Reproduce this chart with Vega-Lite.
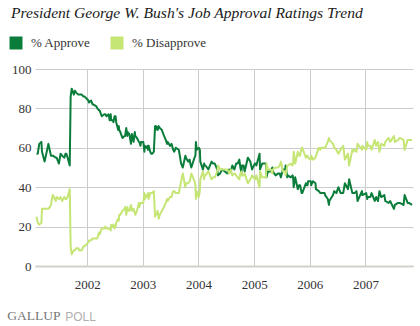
{
  "$schema": "https://vega.github.io/schema/vega-lite/v6.json",
  "autosize": "none",
  "width": 378,
  "height": 197,
  "padding": {"left": 35, "top": 69, "right": 7, "bottom": 60},
  "background": "white",
  "title": {
    "text": "President George W. Bush's Job Approval Ratings Trend",
    "anchor": "start",
    "frame": "group",
    "dx": -24,
    "offset": 8,
    "font": "Liberation Serif",
    "fontStyle": "italic",
    "fontWeight": "normal",
    "fontSize": 15.6,
    "color": "#1a1a1a"
  },
  "data": {
    "values": [
      {"d": "2001-02-02", "approve": 57, "disapprove": 25},
      {"d": "2001-02-10", "approve": 57, "disapprove": 22},
      {"d": "2001-02-20", "approve": 62, "disapprove": 21},
      {"d": "2001-03-06", "approve": 63, "disapprove": 22},
      {"d": "2001-03-10", "approve": 58, "disapprove": 29},
      {"d": "2001-03-27", "approve": 53, "disapprove": 29},
      {"d": "2001-04-21", "approve": 62, "disapprove": 29},
      {"d": "2001-05-08", "approve": 56, "disapprove": 31},
      {"d": "2001-05-12", "approve": 56, "disapprove": 33},
      {"d": "2001-05-19", "approve": 56, "disapprove": 36},
      {"d": "2001-06-09", "approve": 55, "disapprove": 33},
      {"d": "2001-06-14", "approve": 55, "disapprove": 35},
      {"d": "2001-06-29", "approve": 52, "disapprove": 34},
      {"d": "2001-07-10", "approve": 57, "disapprove": 35},
      {"d": "2001-07-20", "approve": 56, "disapprove": 33},
      {"d": "2001-08-04", "approve": 55, "disapprove": 35},
      {"d": "2001-08-11", "approve": 57, "disapprove": 34},
      {"d": "2001-08-17", "approve": 57, "disapprove": 34},
      {"d": "2001-08-25", "approve": 55, "disapprove": 35},
      {"d": "2001-09-08", "approve": 51, "disapprove": 39},
      {"d": "2001-09-14", "approve": 86, "disapprove": 10},
      {"d": "2001-09-21", "approve": 90, "disapprove": 6},
      {"d": "2001-10-05", "approve": 87, "disapprove": 8},
      {"d": "2001-10-12", "approve": 89, "disapprove": 8},
      {"d": "2001-10-20", "approve": 88, "disapprove": 9},
      {"d": "2001-11-03", "approve": 87, "disapprove": 9},
      {"d": "2001-11-09", "approve": 87, "disapprove": 8},
      {"d": "2001-11-26", "approve": 87, "disapprove": 8},
      {"d": "2001-12-07", "approve": 86, "disapprove": 10},
      {"d": "2001-12-15", "approve": 86, "disapprove": 10},
      {"d": "2002-01-08", "approve": 84, "disapprove": 12},
      {"d": "2002-01-12", "approve": 83, "disapprove": 13},
      {"d": "2002-01-26", "approve": 84, "disapprove": 13},
      {"d": "2002-02-05", "approve": 82, "disapprove": 14},
      {"d": "2002-02-09", "approve": 82, "disapprove": 14},
      {"d": "2002-03-02", "approve": 81, "disapprove": 14},
      {"d": "2002-03-08", "approve": 80, "disapprove": 14},
      {"d": "2002-03-19", "approve": 79, "disapprove": 17},
      {"d": "2002-03-23", "approve": 79, "disapprove": 16},
      {"d": "2002-04-06", "approve": 76, "disapprove": 19},
      {"d": "2002-04-23", "approve": 77, "disapprove": 19},
      {"d": "2002-04-30", "approve": 77, "disapprove": 20},
      {"d": "2002-05-07", "approve": 76, "disapprove": 19},
      {"d": "2002-05-21", "approve": 77, "disapprove": 19},
      {"d": "2002-05-28", "approve": 74, "disapprove": 19},
      {"d": "2002-06-04", "approve": 77, "disapprove": 18},
      {"d": "2002-06-07", "approve": 74, "disapprove": 21},
      {"d": "2002-06-18", "approve": 74, "disapprove": 20},
      {"d": "2002-06-22", "approve": 73, "disapprove": 21},
      {"d": "2002-06-29", "approve": 76, "disapprove": 19},
      {"d": "2002-07-06", "approve": 76, "disapprove": 20},
      {"d": "2002-07-10", "approve": 73, "disapprove": 22},
      {"d": "2002-07-23", "approve": 69, "disapprove": 24},
      {"d": "2002-07-27", "approve": 71, "disapprove": 23},
      {"d": "2002-07-30", "approve": 69, "disapprove": 26},
      {"d": "2002-08-06", "approve": 68, "disapprove": 26},
      {"d": "2002-08-20", "approve": 65, "disapprove": 28},
      {"d": "2002-09-03", "approve": 66, "disapprove": 29},
      {"d": "2002-09-06", "approve": 66, "disapprove": 30},
      {"d": "2002-09-14", "approve": 70, "disapprove": 26},
      {"d": "2002-09-21", "approve": 66, "disapprove": 30},
      {"d": "2002-09-24", "approve": 68, "disapprove": 28},
      {"d": "2002-10-04", "approve": 67, "disapprove": 28},
      {"d": "2002-10-15", "approve": 62, "disapprove": 31},
      {"d": "2002-10-21", "approve": 67, "disapprove": 28},
      {"d": "2002-11-01", "approve": 63, "disapprove": 29},
      {"d": "2002-11-09", "approve": 68, "disapprove": 27},
      {"d": "2002-11-12", "approve": 66, "disapprove": 26},
      {"d": "2002-11-23", "approve": 65, "disapprove": 28},
      {"d": "2002-12-06", "approve": 63, "disapprove": 32},
      {"d": "2002-12-09", "approve": 63, "disapprove": 30},
      {"d": "2002-12-16", "approve": 61, "disapprove": 32},
      {"d": "2002-12-20", "approve": 63, "disapprove": 32},
      {"d": "2003-01-04", "approve": 63, "disapprove": 32},
      {"d": "2003-01-11", "approve": 58, "disapprove": 37},
      {"d": "2003-01-14", "approve": 61, "disapprove": 34},
      {"d": "2003-01-24", "approve": 60, "disapprove": 36},
      {"d": "2003-02-01", "approve": 61, "disapprove": 35},
      {"d": "2003-02-04", "approve": 59, "disapprove": 37},
      {"d": "2003-02-08", "approve": 61, "disapprove": 34},
      {"d": "2003-02-18", "approve": 58, "disapprove": 37},
      {"d": "2003-02-25", "approve": 57, "disapprove": 37},
      {"d": "2003-03-04", "approve": 57, "disapprove": 37},
      {"d": "2003-03-14", "approve": 58, "disapprove": 38},
      {"d": "2003-03-22", "approve": 71, "disapprove": 25},
      {"d": "2003-03-24", "approve": 69, "disapprove": 27},
      {"d": "2003-03-29", "approve": 71, "disapprove": 26},
      {"d": "2003-04-05", "approve": 70, "disapprove": 27},
      {"d": "2003-04-08", "approve": 69, "disapprove": 28},
      {"d": "2003-04-15", "approve": 71, "disapprove": 24},
      {"d": "2003-04-22", "approve": 70, "disapprove": 26},
      {"d": "2003-05-06", "approve": 69, "disapprove": 28},
      {"d": "2003-05-20", "approve": 66, "disapprove": 30},
      {"d": "2003-05-31", "approve": 64, "disapprove": 32},
      {"d": "2003-06-09", "approve": 62, "disapprove": 34},
      {"d": "2003-06-13", "approve": 63, "disapprove": 33},
      {"d": "2003-06-28", "approve": 61, "disapprove": 35},
      {"d": "2003-07-08", "approve": 62, "disapprove": 35},
      {"d": "2003-07-19", "approve": 59, "disapprove": 38},
      {"d": "2003-07-26", "approve": 58, "disapprove": 38},
      {"d": "2003-08-05", "approve": 60, "disapprove": 37},
      {"d": "2003-08-25", "approve": 59, "disapprove": 37},
      {"d": "2003-09-09", "approve": 52, "disapprove": 43},
      {"d": "2003-09-20", "approve": 50, "disapprove": 47},
      {"d": "2003-10-07", "approve": 56, "disapprove": 40},
      {"d": "2003-10-11", "approve": 55, "disapprove": 42},
      {"d": "2003-10-25", "approve": 53, "disapprove": 42},
      {"d": "2003-11-04", "approve": 54, "disapprove": 43},
      {"d": "2003-11-11", "approve": 51, "disapprove": 45},
      {"d": "2003-11-15", "approve": 50, "disapprove": 47},
      {"d": "2003-12-06", "approve": 55, "disapprove": 43},
      {"d": "2003-12-12", "approve": 56, "disapprove": 41},
      {"d": "2003-12-15", "approve": 63, "disapprove": 34},
      {"d": "2003-12-20", "approve": 59, "disapprove": 38},
      {"d": "2004-01-03", "approve": 60, "disapprove": 35},
      {"d": "2004-01-10", "approve": 59, "disapprove": 38},
      {"d": "2004-01-13", "approve": 53, "disapprove": 44},
      {"d": "2004-01-30", "approve": 49, "disapprove": 48},
      {"d": "2004-02-07", "approve": 52, "disapprove": 44},
      {"d": "2004-02-10", "approve": 51, "disapprove": 46},
      {"d": "2004-02-16", "approve": 51, "disapprove": 46},
      {"d": "2004-03-06", "approve": 49, "disapprove": 48},
      {"d": "2004-03-27", "approve": 53, "disapprove": 44},
      {"d": "2004-04-06", "approve": 52, "disapprove": 45},
      {"d": "2004-04-17", "approve": 52, "disapprove": 45},
      {"d": "2004-05-03", "approve": 49, "disapprove": 48},
      {"d": "2004-05-08", "approve": 46, "disapprove": 51},
      {"d": "2004-05-22", "approve": 47, "disapprove": 49},
      {"d": "2004-06-04", "approve": 49, "disapprove": 49},
      {"d": "2004-06-22", "approve": 48, "disapprove": 49},
      {"d": "2004-07-09", "approve": 47, "disapprove": 49},
      {"d": "2004-07-20", "approve": 49, "disapprove": 47},
      {"d": "2004-07-31", "approve": 48, "disapprove": 49},
      {"d": "2004-08-10", "approve": 51, "disapprove": 46},
      {"d": "2004-08-24", "approve": 49, "disapprove": 47},
      {"d": "2004-09-04", "approve": 52, "disapprove": 46},
      {"d": "2004-09-14", "approve": 52, "disapprove": 45},
      {"d": "2004-09-25", "approve": 54, "disapprove": 44},
      {"d": "2004-10-02", "approve": 50, "disapprove": 47},
      {"d": "2004-10-09", "approve": 47, "disapprove": 48},
      {"d": "2004-10-12", "approve": 51, "disapprove": 46},
      {"d": "2004-10-23", "approve": 51, "disapprove": 46},
      {"d": "2004-10-30", "approve": 48, "disapprove": 47},
      {"d": "2004-11-20", "approve": 55, "disapprove": 42},
      {"d": "2004-12-06", "approve": 53, "disapprove": 44},
      {"d": "2004-12-18", "approve": 49, "disapprove": 46},
      {"d": "2005-01-04", "approve": 52, "disapprove": 44},
      {"d": "2005-01-08", "approve": 52, "disapprove": 44},
      {"d": "2005-01-15", "approve": 51, "disapprove": 46},
      {"d": "2005-02-05", "approve": 57, "disapprove": 40},
      {"d": "2005-02-08", "approve": 49, "disapprove": 48},
      {"d": "2005-02-22", "approve": 52, "disapprove": 45},
      {"d": "2005-02-26", "approve": 52, "disapprove": 45},
      {"d": "2005-03-08", "approve": 52, "disapprove": 45},
      {"d": "2005-03-19", "approve": 52, "disapprove": 45},
      {"d": "2005-03-22", "approve": 45, "disapprove": 52},
      {"d": "2005-04-01", "approve": 48, "disapprove": 49},
      {"d": "2005-04-19", "approve": 48, "disapprove": 49},
      {"d": "2005-04-30", "approve": 50, "disapprove": 47},
      {"d": "2005-05-03", "approve": 48, "disapprove": 49},
      {"d": "2005-05-21", "approve": 46, "disapprove": 50},
      {"d": "2005-06-07", "approve": 47, "disapprove": 50},
      {"d": "2005-06-17", "approve": 47, "disapprove": 51},
      {"d": "2005-06-25", "approve": 45, "disapprove": 53},
      {"d": "2005-07-08", "approve": 49, "disapprove": 48},
      {"d": "2005-07-23", "approve": 49, "disapprove": 48},
      {"d": "2005-07-26", "approve": 51, "disapprove": 46},
      {"d": "2005-08-06", "approve": 45, "disapprove": 51},
      {"d": "2005-08-09", "approve": 46, "disapprove": 51},
      {"d": "2005-08-29", "approve": 45, "disapprove": 52},
      {"d": "2005-09-09", "approve": 46, "disapprove": 51},
      {"d": "2005-09-13", "approve": 45, "disapprove": 52},
      {"d": "2005-09-17", "approve": 40, "disapprove": 58},
      {"d": "2005-09-27", "approve": 45, "disapprove": 52},
      {"d": "2005-10-14", "approve": 39, "disapprove": 58},
      {"d": "2005-10-22", "approve": 41, "disapprove": 56},
      {"d": "2005-10-29", "approve": 41, "disapprove": 56},
      {"d": "2005-11-08", "approve": 37, "disapprove": 60},
      {"d": "2005-11-12", "approve": 37, "disapprove": 60},
      {"d": "2005-12-06", "approve": 42, "disapprove": 55},
      {"d": "2005-12-10", "approve": 41, "disapprove": 56},
      {"d": "2005-12-17", "approve": 41, "disapprove": 56},
      {"d": "2005-12-20", "approve": 43, "disapprove": 55},
      {"d": "2006-01-07", "approve": 43, "disapprove": 54},
      {"d": "2006-01-10", "approve": 41, "disapprove": 56},
      {"d": "2006-01-21", "approve": 43, "disapprove": 54},
      {"d": "2006-02-07", "approve": 42, "disapprove": 55},
      {"d": "2006-02-10", "approve": 39, "disapprove": 56},
      {"d": "2006-03-01", "approve": 38, "disapprove": 60},
      {"d": "2006-03-11", "approve": 37, "disapprove": 59},
      {"d": "2006-03-15", "approve": 37, "disapprove": 60},
      {"d": "2006-04-08", "approve": 37, "disapprove": 60},
      {"d": "2006-04-11", "approve": 36, "disapprove": 60},
      {"d": "2006-04-29", "approve": 34, "disapprove": 63},
      {"d": "2006-05-06", "approve": 31, "disapprove": 65},
      {"d": "2006-05-09", "approve": 33, "disapprove": 64},
      {"d": "2006-06-02", "approve": 36, "disapprove": 62},
      {"d": "2006-06-10", "approve": 38, "disapprove": 60},
      {"d": "2006-06-24", "approve": 37, "disapprove": 59},
      {"d": "2006-07-07", "approve": 40, "disapprove": 57},
      {"d": "2006-07-22", "approve": 37, "disapprove": 59},
      {"d": "2006-07-29", "approve": 37, "disapprove": 60},
      {"d": "2006-08-08", "approve": 37, "disapprove": 61},
      {"d": "2006-08-19", "approve": 42, "disapprove": 54},
      {"d": "2006-09-08", "approve": 39, "disapprove": 57},
      {"d": "2006-09-16", "approve": 44, "disapprove": 51},
      {"d": "2006-10-07", "approve": 37, "disapprove": 59},
      {"d": "2006-10-10", "approve": 37, "disapprove": 58},
      {"d": "2006-10-21", "approve": 37, "disapprove": 59},
      {"d": "2006-11-03", "approve": 38, "disapprove": 58},
      {"d": "2006-11-10", "approve": 33, "disapprove": 62},
      {"d": "2006-12-09", "approve": 38, "disapprove": 59},
      {"d": "2006-12-12", "approve": 36, "disapprove": 61},
      {"d": "2007-01-06", "approve": 37, "disapprove": 59},
      {"d": "2007-01-13", "approve": 34, "disapprove": 63},
      {"d": "2007-01-16", "approve": 35, "disapprove": 61},
      {"d": "2007-02-02", "approve": 35, "disapprove": 61},
      {"d": "2007-02-10", "approve": 37, "disapprove": 59},
      {"d": "2007-03-03", "approve": 33, "disapprove": 64},
      {"d": "2007-03-12", "approve": 35, "disapprove": 61},
      {"d": "2007-03-24", "approve": 33, "disapprove": 63},
      {"d": "2007-04-03", "approve": 38, "disapprove": 58},
      {"d": "2007-04-14", "approve": 35, "disapprove": 62},
      {"d": "2007-05-05", "approve": 36, "disapprove": 61},
      {"d": "2007-05-11", "approve": 33, "disapprove": 63},
      {"d": "2007-06-02", "approve": 32, "disapprove": 65},
      {"d": "2007-06-12", "approve": 33, "disapprove": 63},
      {"d": "2007-07-07", "approve": 29, "disapprove": 66},
      {"d": "2007-07-13", "approve": 31, "disapprove": 63},
      {"d": "2007-08-04", "approve": 32, "disapprove": 64},
      {"d": "2007-08-14", "approve": 32, "disapprove": 65},
      {"d": "2007-09-08", "approve": 31, "disapprove": 64},
      {"d": "2007-09-15", "approve": 36, "disapprove": 59},
      {"d": "2007-10-05", "approve": 32, "disapprove": 64},
      {"d": "2007-10-13", "approve": 32, "disapprove": 64},
      {"d": "2007-11-03", "approve": 31, "disapprove": 64}
    ]
  },
  "transform": [
    {"fold": ["approve", "disapprove"], "as": ["series", "pct"]}
  ],
  "mark": {"type": "line", "strokeWidth": 2, "strokeJoin": "round", "clip": true},
  "encoding": {
    "x": {
      "field": "d",
      "type": "temporal",
      "scale": {
        "domain": [
          {"year": 2001, "month": 1, "date": 23},
          {"year": 2007, "month": 11, "date": 9}
        ]
      },
      "axis": {
        "values": [
          {"year": 2002, "month": 1, "date": 1},
          {"year": 2003, "month": 1, "date": 1},
          {"year": 2004, "month": 1, "date": 1},
          {"year": 2005, "month": 1, "date": 1},
          {"year": 2006, "month": 1, "date": 1},
          {"year": 2007, "month": 1, "date": 1}
        ],
        "format": "%Y",
        "grid": true,
        "gridColor": "#cccccc",
        "gridWidth": 1,
        "ticks": false,
        "domain": true,
        "domainColor": "#d3d1ca",
        "domainWidth": 2,
        "labelFont": "Liberation Serif",
        "labelFontSize": 13,
        "labelColor": "#333333",
        "labelPadding": 12,
        "title": "GALLUP",
        "titleFont": "Liberation Serif",
        "titleFontSize": 13.5,
        "titleFontWeight": "normal",
        "titleColor": "#777777",
        "titleAlign": "left",
        "titleBaseline": "alphabetic",
        "titleAnchor": "start",
        "titleX": -28.3,
        "titleY": 53.7
      }
    },
    "y": {
      "field": "pct",
      "type": "quantitative",
      "scale": {"domain": [0, 100], "nice": false},
      "axis": {
        "values": [0, 20, 40, 60, 80, 100],
        "grid": true,
        "gridColor": "#cccccc",
        "gridWidth": 1,
        "ticks": false,
        "domain": false,
        "labelFont": "Liberation Serif",
        "labelFontSize": 13,
        "labelColor": "#333333",
        "labelPadding": 4,
        "title": "POLL",
        "titleFont": "Liberation Sans",
        "titleFontSize": 12,
        "titleFontWeight": "normal",
        "titleColor": "#b0b0b0",
        "titleAngle": 0,
        "titleAlign": "left",
        "titleBaseline": "alphabetic",
        "titleX": 29.7,
        "titleY": 251
      }
    },
    "color": {
      "field": "series",
      "type": "nominal",
      "scale": {"domain": ["approve", "disapprove"], "range": ["#0b7d3b", "#c5e575"]},
      "legend": {
        "title": null,
        "orient": "none",
        "direction": "horizontal",
        "legendX": -32,
        "legendY": -39,
        "symbolType": "stroke",
        "symbolSize": 169,
        "symbolStrokeWidth": 13,
        "labelFont": "Liberation Serif",
        "labelFontSize": 13,
        "labelColor": "#333333",
        "labelOffset": 2,
        "columnPadding": -7,
        "labelExpr": "datum.label == 'approve' ? '% Approve' : '% Disapprove'"
      }
    }
  },
  "config": {
    "view": {"stroke": null}
  }
}
